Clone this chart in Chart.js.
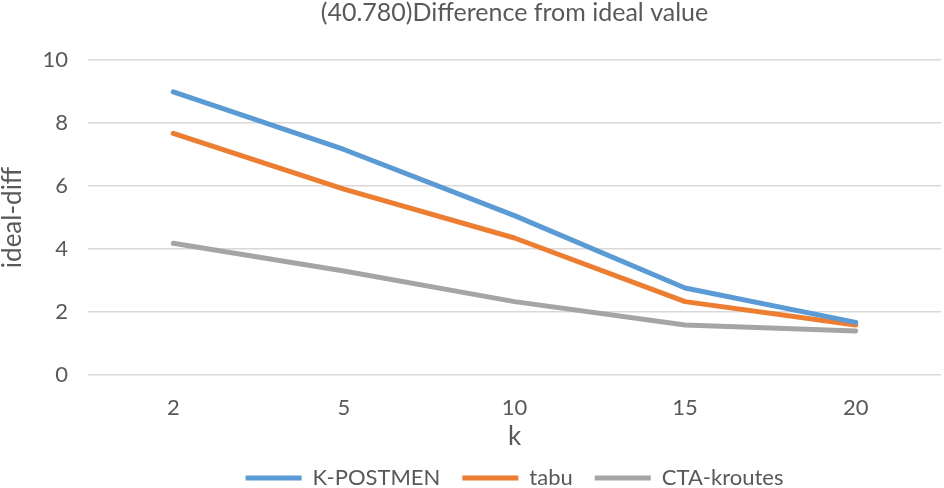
<!DOCTYPE html>
<html>
<head>
<meta charset="utf-8">
<script src="https://cdn.jsdelivr.net/npm/chart.js@4/dist/chart.umd.min.js"></script>
<style>
  html, body { margin: 0; padding: 0; background: #fff; }
  #wrap { width: 944px; height: 488px; }
</style>
</head>
<body>
<div id="wrap"><canvas id="chart" width="944" height="488"></canvas></div>
<script>
const categories = ['2', '5', '10', '15', '20'];
const kPostmen = [8.99, 7.16, 5.06, 2.76, 1.67];
const tabu = [7.67, 5.9, 4.35, 2.33, 1.59];
const ctaKroutes = [4.18, 3.3, 2.33, 1.59, 1.40];
const yTicks = [0, 2, 4, 6, 8, 10];

const FONT = "Lato, 'Open Sans', sans-serif";
const TEXT = '#595959';

function series(label, values, color) {
    return {
        label: label,
        data: values,
        borderColor: color,
        backgroundColor: color,
        borderWidth: 5,
        borderCapStyle: 'round',
        borderJoinStyle: 'round',
        pointRadius: 0,
        pointStyle: 'line',
        tension: 0,
        fill: false
    };
}

const ctx = document.getElementById('chart').getContext('2d');
new Chart(ctx, {
    type: 'line',
    data: {
        labels: categories,
        datasets: [
            series('K-POSTMEN', kPostmen, '#5B9BD5'),
            series('tabu', tabu, '#ED7D31'),
            series('CTA-kroutes', ctaKroutes, '#A5A5A5')
        ]
    },
    options: {
        responsive: false,
        animation: false,
        layout: { padding: { left: 0, right: 3, top: 0, bottom: -11 } },
        scales: {
            x: {
                offset: true,
                grid: { display: false },
                border: { display: false },
                ticks: { color: TEXT, font: { family: FONT, size: 22 }, padding: 12 },
                title: {
                    display: true,
                    text: 'k',
                    color: TEXT,
                    font: { family: FONT, size: 26 },
                    padding: { top: 0, bottom: -7 }
                },
                afterFit: scale => { scale.height = 70; }
            },
            y: {
                min: 0,
                max: 10,
                afterBuildTicks: scale => { scale.ticks = yTicks.map(v => ({ value: v })); },
                grid: { color: '#D9D9D9', lineWidth: 1.5, drawTicks: false },
                border: { display: false },
                ticks: { color: TEXT, font: { family: FONT, size: 22 }, padding: 20 },
                title: {
                    display: true,
                    text: 'ideal-diff',
                    color: TEXT,
                    font: { family: FONT, size: 26, lineHeight: 1 },
                    padding: { top: 0, bottom: 0 }
                },
                afterFit: scale => { scale.width = 88; }
            }
        },
        plugins: {
            title: {
                display: true,
                fullSize: false,
                text: '(40.780)Difference from ideal value',
                color: TEXT,
                font: { family: FONT, size: 25, weight: 'normal', lineHeight: 1 },
                padding: { top: 0, bottom: 35 }
            },
            legend: {
                position: 'bottom',
                fullSize: false,
                labels: {
                    color: TEXT,
                    font: { family: FONT, size: 22 },
                    usePointStyle: true,
                    pointStyleWidth: 56,
                    boxHeight: 6,
                    padding: 22
                }
            },
            tooltip: { enabled: false }
        }
    }
});
</script>
</body>
</html>
